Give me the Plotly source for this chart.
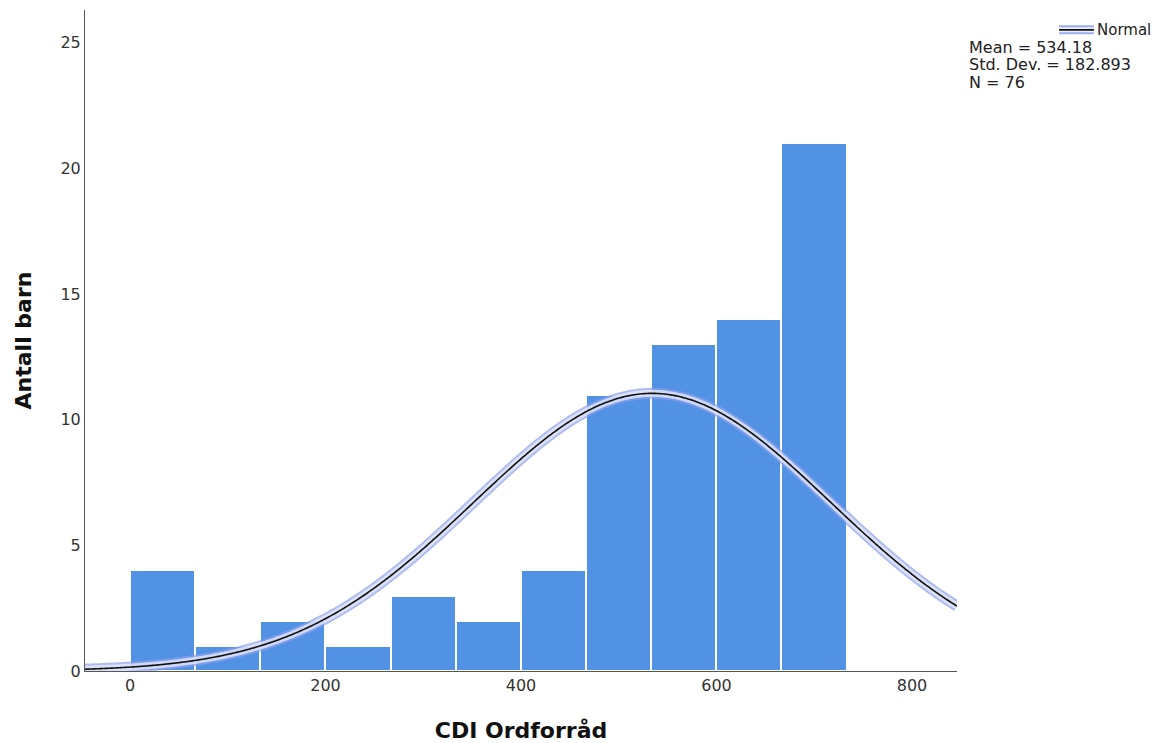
import numpy as np
import plotly.graph_objects as go

# Data
bin_start = 0.0
bin_width = 733.0 / 11
counts = [4, 1, 2, 1, 3, 2, 4, 11, 13, 14, 21]
mean = 534.18
std_dev = 182.893
n_obs = 76
x_ticks = [0, 200, 400, 600, 800]
y_ticks = [0, 5, 10, 15, 20, 25]
stats_lines = ["Mean = 534.18", "Std. Dev. = 182.893", "N = 76"]

centers = [bin_start + bin_width * (i + 0.5) for i in range(len(counts))]

x_min, x_max = -46, 846
xc = np.linspace(x_min, x_max, 400)
yc = n_obs * bin_width / (std_dev * np.sqrt(2 * np.pi)) * np.exp(-0.5 * ((xc - mean) / std_dev) ** 2)

fig = go.Figure()
fig.add_trace(go.Bar(x=centers, y=counts, width=bin_width,
                     marker=dict(color="#5192e4", line=dict(color="white", width=2)),
                     showlegend=False, hoverinfo="skip"))
# halo of the normal curve
fig.add_trace(go.Scatter(x=xc, y=yc, mode="lines", line=dict(color="rgba(140,160,235,0.7)", width=11, shape="spline"),
                         showlegend=False, hoverinfo="skip"))
fig.add_trace(go.Scatter(x=xc, y=yc, mode="lines", line=dict(color="rgba(235,238,252,0.75)", width=7, shape="spline"),
                         showlegend=False, hoverinfo="skip"))
fig.add_trace(go.Scatter(x=xc, y=yc, mode="lines", line=dict(color="#111111", width=1.6, shape="spline"),
                         showlegend=False, hoverinfo="skip"))

font_family = "DejaVu Sans, Verdana, sans-serif"

fig.update_layout(
    width=1151, height=735,
    margin=dict(l=77, r=202, t=2, b=72),
    plot_bgcolor="white", paper_bgcolor="white",
    bargap=0,
    font=dict(family=font_family, size=16, color="#333333"),
    xaxis=dict(range=[x_min, x_max], tickvals=x_ticks, showgrid=False, zeroline=False,
               showline=True, linecolor="#555555", linewidth=1, ticks="",
               tickfont=dict(size=16, color="#333333"),
               title=dict(text="<b>CDI Ordforråd</b>", font=dict(size=22, color="#111111"), standoff=29)),
    yaxis=dict(range=[0, 26.3], tickvals=y_ticks, showgrid=False, zeroline=False,
               showline=True, linecolor="#555555", linewidth=1, ticks="",
               tickfont=dict(size=16, color="#333333"),
               title=dict(text="<b>Antall barn</b>", font=dict(size=22, color="#111111"), standoff=22)),
)

# legend symbol (halo + black line) and label
fig.add_shape(type="line", xref="paper", yref="paper", x0=1.117, x1=1.157, y0=0.970, y1=0.970,
              line=dict(color="rgba(140,160,235,0.85)", width=9))
fig.add_shape(type="line", xref="paper", yref="paper", x0=1.117, x1=1.157, y0=0.970, y1=0.970,
              line=dict(color="rgba(235,238,252,1)", width=5))
fig.add_shape(type="line", xref="paper", yref="paper", x0=1.117, x1=1.157, y0=0.970, y1=0.970,
              line=dict(color="#111111", width=1.6))
fig.add_annotation(x=1.158, y=0.970, xref="paper", yref="paper", text="Normal", showarrow=False,
                   xanchor="left", yanchor="middle", font=dict(size=15, color="#222222"))
for i, t in enumerate(stats_lines):
    fig.add_annotation(x=1.012, y=0.944 - i * 0.0265, xref="paper", yref="paper", text=t, showarrow=False,
                       xanchor="left", yanchor="middle", font=dict(size=16, color="#222222"))

fig.write_html("out.html")
